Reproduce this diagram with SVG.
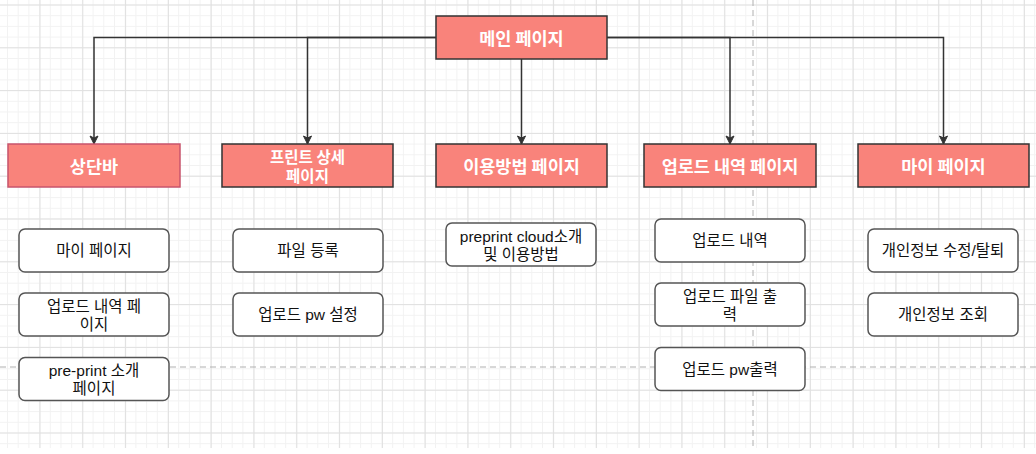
<svg xmlns="http://www.w3.org/2000/svg" width="1036" height="454" viewBox="0 0 1036 454">
<style>
.hdr rect{fill:#F9837B;stroke:#333333;stroke-width:1.5}
.hdr text{fill:#ffffff;font-family:"Noto Sans CJK KR","Liberation Sans",sans-serif;font-weight:bold;font-size:17.5px;text-anchor:middle;dominant-baseline:central}
.hdr text.sm{font-size:15.5px}
.leaf rect{fill:#ffffff;stroke:#555555;stroke-width:1.5}
.leaf text{fill:#111111;font-family:"Liberation Sans","Noto Sans CJK KR",sans-serif;font-size:15.5px;text-anchor:middle;dominant-baseline:central}
.edge{fill:none;stroke:#333333;stroke-width:1.5;marker-end:url(#arr)}
.brk{stroke:#b0b0b0;stroke-width:1;stroke-dasharray:6 4;fill:none}
</style>
<defs>
<pattern id="minor" patternUnits="userSpaceOnUse" x="7" y="4.5" width="10.7" height="10.7">
<path d="M0,0.5H10.7M0.5,0V10.7" stroke="#f2f2f2" stroke-width="1" fill="none"/>
</pattern>
<pattern id="major" patternUnits="userSpaceOnUse" x="39.5" y="4.5" width="42.8" height="42.8">
<path d="M0,0.5H42.8M0.5,0V42.8" stroke="#e0e0e0" stroke-width="1" fill="none"/>
</pattern>
<marker id="arr" markerWidth="10" markerHeight="10" refX="9" refY="5" orient="auto" markerUnits="userSpaceOnUse">
<path d="M1,1 L9,5 L1,9 L3,5 Z" fill="#333333" stroke="#333333" stroke-width="1"/>
</marker>
</defs>
<rect x="0" y="0" width="1036" height="454" fill="#ffffff"/>
<rect x="0" y="0" width="1036" height="448" fill="url(#minor)"/>
<rect x="0" y="0" width="1036" height="448" fill="url(#major)"/>
<path class="brk" d="M0,367H1036M753,0V448"/>

<g id="connectors">
<path class="edge" d="M436,37.5H94V144"/>
<path class="edge" d="M436,37.5H307.5V144"/>
<path class="edge" d="M521.5,59V144"/>
<path class="edge" d="M607,37.5H730V144"/>
<path class="edge" d="M607,37.5H943.5V144"/>
</g>

<g id="main" class="hdr"><rect x="436" y="16" width="171" height="43"/><text x="521.5" y="37.5">메인 페이지</text></g>
<g id="topbar" class="hdr"><rect x="8" y="144" width="172" height="43" style="stroke:#c8546c"/><text x="94" y="165.5">상단바</text></g>
<g id="print" class="hdr"><rect x="222" y="144" width="171" height="43"/><text class="sm" x="307.5" y="155.5"><tspan x="307.5" y="155.5">프린트 상세</tspan><tspan x="307.5" y="175">페이지</tspan></text></g>
<g id="howto" class="hdr"><rect x="436" y="144" width="171" height="43"/><text x="521.5" y="165.5">이용방법 페이지</text></g>
<g id="upload" class="hdr"><rect x="644" y="144" width="172" height="43"/><text x="730" y="165.5">업로드 내역 페이지</text></g>
<g id="mypage" class="hdr"><rect x="858" y="144" width="171" height="43"/><text x="943.5" y="165.5">마이 페이지</text></g>

<g id="tb-mypage" class="leaf"><rect x="19" y="229" width="150" height="43" rx="6"/><text x="94" y="250.5">마이 페이지</text></g>
<g id="tb-upload" class="leaf"><rect x="19" y="293" width="150" height="43" rx="6"/><text x="94" y="306"><tspan x="94" y="306">업로드 내역 페</tspan><tspan x="94" y="323.5">이지</tspan></text></g>
<g id="tb-preprint" class="leaf"><rect x="19" y="357.5" width="150" height="43" rx="6"/><text x="94" y="370"><tspan x="94" y="370">pre-print 소개</tspan><tspan x="94" y="387.5">페이지</tspan></text></g>

<g id="pr-file" class="leaf"><rect x="233" y="229" width="150" height="43" rx="6"/><text x="308" y="250.5">파일 등록</text></g>
<g id="pr-pw" class="leaf"><rect x="233" y="293" width="150" height="43" rx="6"/><text x="308" y="314.5">업로드 pw 설정</text></g>

<g id="ht-intro" class="leaf"><rect x="446" y="223" width="150" height="43" rx="6"/><text x="521" y="236"><tspan x="521" y="236">preprint cloud소개</tspan><tspan x="521" y="253.5">및 이용방법</tspan></text></g>

<g id="up-list" class="leaf"><rect x="655" y="219" width="150" height="43" rx="6"/><text x="730" y="240.5">업로드 내역</text></g>
<g id="up-file" class="leaf"><rect x="655" y="283" width="150" height="43" rx="6"/><text x="730" y="296"><tspan x="730" y="296">업로드 파일 출</tspan><tspan x="730" y="313.5">력</tspan></text></g>
<g id="up-pw" class="leaf"><rect x="655" y="347.5" width="150" height="43" rx="6"/><text x="730" y="369">업로드 pw출력</text></g>

<g id="my-edit" class="leaf"><rect x="868" y="229" width="150" height="43" rx="6"/><text x="943" y="250.5">개인정보 수정/탈퇴</text></g>
<g id="my-view" class="leaf"><rect x="868" y="293" width="150" height="43" rx="6"/><text x="943" y="314.5">개인정보 조회</text></g>
</svg>
